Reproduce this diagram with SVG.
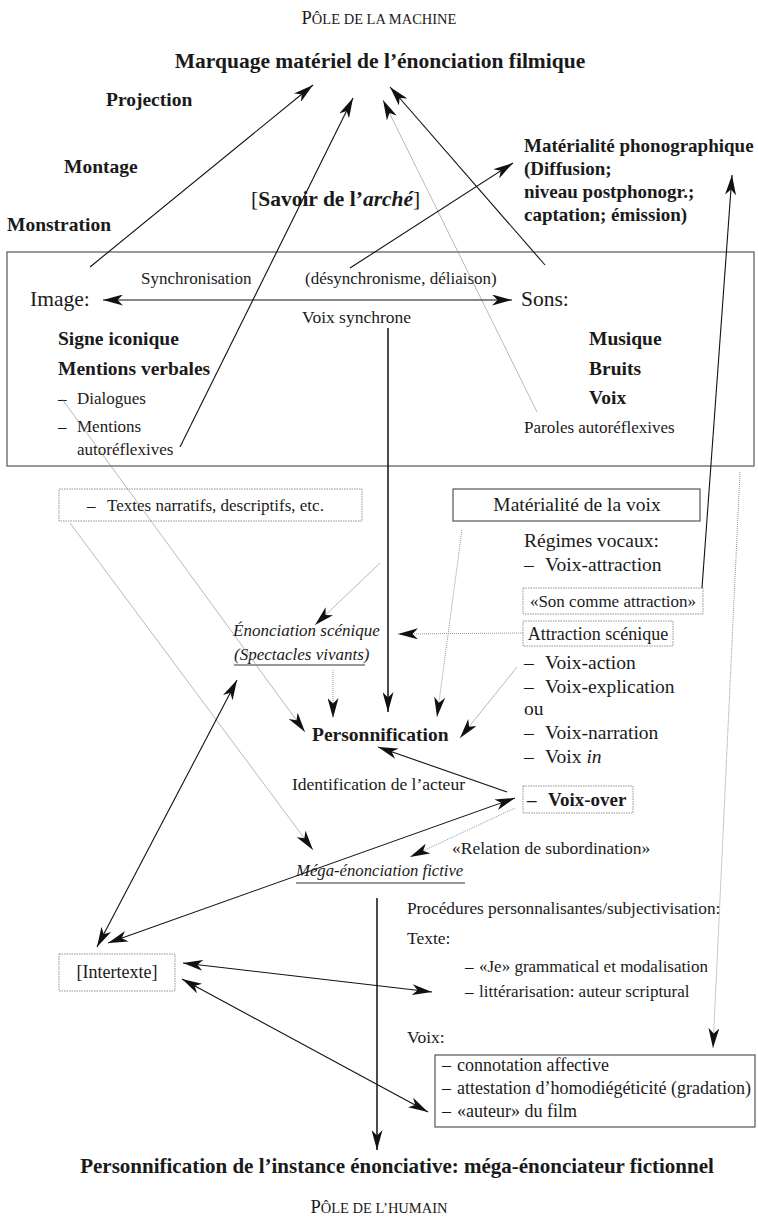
<svg xmlns="http://www.w3.org/2000/svg" width="758" height="1224" viewBox="0 0 758 1224">
<style>
text{font-family:"Liberation Serif","Times New Roman",serif;fill:#1a1a1a}
.b{font-weight:bold}
.i{font-style:italic}
.s17{font-size:17px}
.s175{font-size:17.5px}
.s18{font-size:18px}
.s19{font-size:19px}
.s20{font-size:19.5px}
.box{fill:none;stroke:#555;stroke-width:1.2}
.dbox{fill:none;stroke:#777;stroke-width:0.8;stroke-dasharray:1.5 1}
.k{fill:none;stroke:#111;stroke-width:1.1}
.kk{fill:none;stroke:#111;stroke-width:1.5}
.g{fill:none;stroke:#888;stroke-width:0.6}
.d{fill:none;stroke:#888;stroke-width:0.9;stroke-dasharray:1 1}
.ul{stroke:#333;stroke-width:1}
</style>
<defs>
<marker id="ah" viewBox="0 0 20 11" refX="20" refY="5.5" markerWidth="20" markerHeight="11" markerUnits="userSpaceOnUse" orient="auto-start-reverse">
<path d="M0,0 L20,5.5 L0,11 L5.5,5.5 z" fill="#111"/>
</marker>
</defs>

<g id="pole-machine"><text x="379" y="24" text-anchor="middle"><tspan font-size="18.5">P</tspan><tspan font-size="14.5">ÔLE DE LA MACHINE</tspan></text></g>
<g id="marquage"><text class="b" x="380" y="68" text-anchor="middle" font-size="21.5">Marquage matériel de l’énonciation filmique</text></g>
<g id="projection"><text class="b s20" x="106" y="106">Projection</text></g>
<g id="montage"><text class="b s20" x="64" y="173">Montage</text></g>
<g id="monstration"><text class="b s20" x="7" y="231">Monstration</text></g>
<g id="savoir"><text x="251" y="206" font-size="21.5"><tspan>[</tspan><tspan class="b">Savoir de l’</tspan><tspan class="b i">arché</tspan><tspan>]</tspan></text></g>
<g id="materialite-phono">
<text class="b s19" x="524" y="152">Matérialité phonographique</text>
<text class="b s19" x="524" y="175">(Diffusion;</text>
<text class="b s19" x="524" y="198">niveau postphonogr.;</text>
<text class="b s19" x="524" y="221">captation; émission)</text>
</g>

<g id="main-box">
<rect class="box" x="7" y="252" width="747" height="214"/>
<text class="s17" x="141" y="284">Synchronisation</text>
<text class="s17" x="305" y="284">(désynchronisme, déliaison)</text>
<text class="s175" x="302" y="323">Voix synchrone</text>
</g>
<g id="image">
<text x="30" y="306" font-size="21.5">Image:</text>
<text class="b s20" x="58" y="345">Signe iconique</text>
<text class="b s20" x="58" y="375">Mentions verbales</text>
<text class="s17" x="58" y="404">–<tspan x="77">Dialogues</tspan></text>
<text class="s17" x="58" y="432">–<tspan x="77">Mentions</tspan></text>
<text class="s17" x="77" y="455">autoréflexives</text>
</g>
<g id="sons">
<text x="521" y="306" font-size="21.5">Sons:</text>
<text class="b s20" x="589" y="345">Musique</text>
<text class="b s20" x="589" y="375">Bruits</text>
<text class="b s20" x="589" y="404">Voix</text>
<text class="s17" x="524" y="433">Paroles autoréflexives</text>
</g>

<g id="textes-narratifs">
<rect class="dbox" x="59" y="489" width="303" height="32"/>
<text class="s17" x="87" y="511">–<tspan x="107">Textes narratifs, descriptifs, etc.</tspan></text>
</g>
<g id="materialite-voix">
<rect class="box" x="453" y="489" width="247" height="32"/>
<text x="577" y="511" text-anchor="middle" font-size="19.5">Matérialité de la voix</text>
</g>
<g id="regimes">
<text x="524" y="547" font-size="19.5">Régimes vocaux:</text>
<text x="524" y="571" font-size="19.5">–<tspan x="545">Voix-attraction</tspan></text>
</g>
<g id="son-attraction">
<rect class="dbox" x="523" y="588" width="180" height="26"/>
<text class="s17" x="613" y="607" text-anchor="middle">«Son comme attraction»</text>
</g>
<g id="attraction-scenique">
<rect class="dbox" x="523" y="621" width="150" height="25"/>
<text x="598" y="640" text-anchor="middle" font-size="18">Attraction scénique</text>
</g>
<g id="regimes-suite">
<text x="524" y="669" font-size="19.5">–<tspan x="545">Voix-action</tspan></text>
<text x="524" y="693" font-size="19.5">–<tspan x="545">Voix-explication</tspan></text>
<text x="524" y="715" font-size="19.5">ou</text>
<text x="524" y="739" font-size="19.5">–<tspan x="545">Voix-narration</tspan></text>
<text x="524" y="763" font-size="19.5">–<tspan x="545">Voix </tspan><tspan class="i">in</tspan></text>
</g>
<g id="enonciation-scenique">
<text class="i s17" x="233" y="636">Énonciation scénique</text>
<text class="i s17" x="234" y="660">(Spectacles vivants)</text>
<line class="ul" x1="234" y1="665" x2="365" y2="665"/>
</g>
<g id="personnification"><text class="b" x="312" y="741" font-size="19.5">Personnification</text></g>
<g id="identification"><text class="s175" x="292" y="790">Identification de l’acteur</text></g>
<g id="voix-over">
<rect class="dbox" x="523" y="786" width="110" height="27"/>
<text class="b s19" x="527" y="806">–<tspan x="548">Voix-over</tspan></text>
</g>
<g id="subordination"><text class="s175" x="452" y="854">«Relation de subordination»</text></g>
<g id="mega-enonciation">
<text class="i" x="296" y="876" font-size="16.7">Méga-énonciation fictive</text>
<line class="ul" x1="296" y1="883" x2="465" y2="883"/>
</g>
<g id="procedures">
<text x="407" y="914" font-size="17.3">Procédures personnalisantes/subjectivisation:</text>
<text class="s175" x="407" y="944">Texte:</text>
<text class="s17" x="465" y="972">–<tspan x="479">«Je» grammatical et modalisation</tspan></text>
<text class="s17" x="465" y="997">–<tspan x="479">littérarisation: auteur scriptural</tspan></text>
<text class="s175" x="407" y="1043">Voix:</text>
</g>
<g id="intertexte">
<rect class="dbox" x="59" y="954" width="116" height="37"/>
<text x="117" y="978" text-anchor="middle" font-size="18">[Intertexte]</text>
</g>
<g id="voix-box">
<rect class="box" x="435" y="1055" width="320" height="72"/>
<text class="s18" x="442" y="1071">–<tspan x="457">connotation affective</tspan></text>
<text class="s18" x="442" y="1094">–<tspan x="457">attestation d’homodiégéticité (gradation)</tspan></text>
<text class="s18" x="442" y="1117">–<tspan x="457">«auteur» du film</tspan></text>
</g>
<g id="personnification-instance"><text class="b" x="397" y="1173" text-anchor="middle" font-size="21">Personnification de l’instance énonciative: méga-énonciateur fictionnel</text></g>
<g id="pole-humain"><text x="379" y="1213" text-anchor="middle"><tspan font-size="18.5">P</tspan><tspan font-size="14.5">ÔLE DE L’HUMAIN</tspan></text></g>

<g id="connectors">
<line class="k" x1="90" y1="267" x2="313" y2="85" marker-end="url(#ah)"/>
<line class="k" x1="180" y1="447" x2="353" y2="98" marker-end="url(#ah)"/>
<line class="g" x1="537" y1="412" x2="383" y2="100" marker-end="url(#ah)"/>
<line class="k" x1="545" y1="265" x2="390" y2="87" marker-end="url(#ah)"/>
<line class="k" x1="350" y1="268" x2="513" y2="163" marker-end="url(#ah)"/>
<line class="k" x1="702" y1="588" x2="732" y2="175" marker-end="url(#ah)"/>
<line class="d" x1="740" y1="472" x2="713" y2="1048" marker-end="url(#ah)"/>
<line class="k" x1="103" y1="300" x2="512" y2="300" marker-start="url(#ah)" marker-end="url(#ah)"/>
<line class="kk" x1="388" y1="328" x2="388" y2="712" marker-end="url(#ah)"/>
<line class="d" x1="462" y1="530" x2="437" y2="717" marker-end="url(#ah)"/>
<line class="g" x1="517" y1="667" x2="460" y2="738" marker-end="url(#ah)"/>
<line class="d" x1="523" y1="633" x2="398" y2="634" marker-end="url(#ah)"/>
<line class="g" x1="380" y1="563" x2="315" y2="625" marker-end="url(#ah)"/>
<line class="d" x1="333" y1="670" x2="333" y2="718" marker-end="url(#ah)"/>
<line class="g" x1="62" y1="399" x2="305" y2="732" marker-end="url(#ah)"/>
<line class="g" x1="70" y1="523" x2="313" y2="850" marker-end="url(#ah)"/>
<line class="k" x1="97" y1="947" x2="237" y2="680" marker-start="url(#ah)" marker-end="url(#ah)"/>
<line class="k" x1="108" y1="943" x2="515" y2="798" marker-start="url(#ah)" marker-end="url(#ah)"/>
<line class="k" x1="507" y1="792" x2="378" y2="747" marker-end="url(#ah)"/>
<line class="d" x1="515" y1="808" x2="410" y2="857" marker-end="url(#ah)"/>
<line class="kk" x1="377" y1="898" x2="377" y2="1150" marker-end="url(#ah)"/>
<line class="k" x1="183" y1="963" x2="432" y2="992" marker-start="url(#ah)" marker-end="url(#ah)"/>
<line class="k" x1="182" y1="979" x2="428" y2="1112" marker-start="url(#ah)" marker-end="url(#ah)"/>
</g>
</svg>
